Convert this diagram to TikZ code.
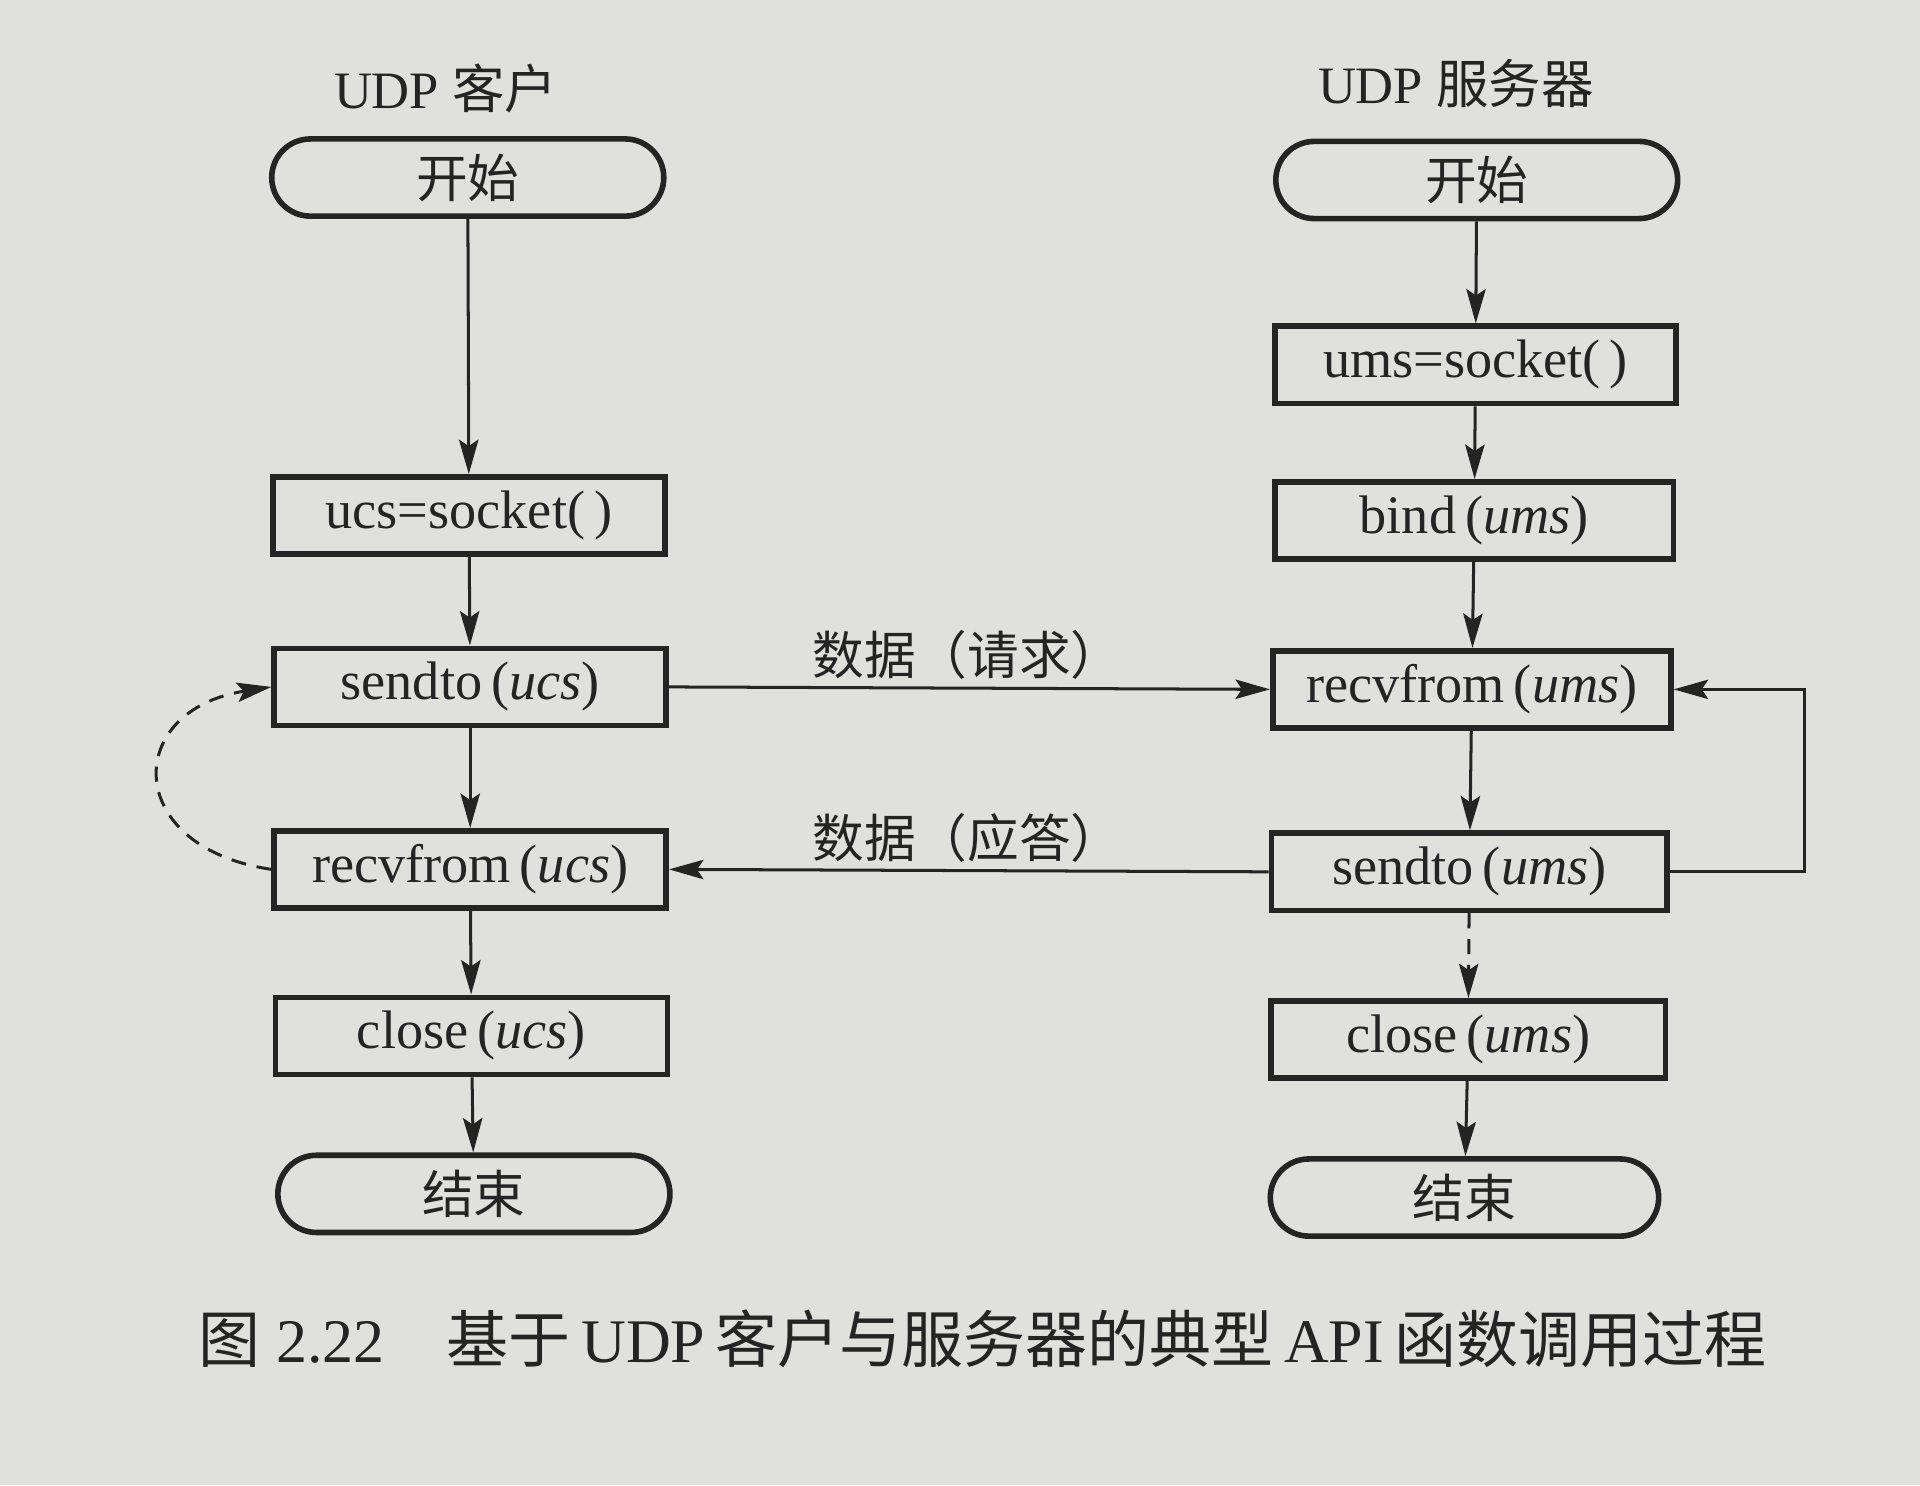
\documentclass[tikz,border=0pt]{standalone}
\usepackage{fontspec}
\setmainfont{Liberation Serif}
\newfontfamily\cjk{Noto Sans CJK SC}
\usetikzlibrary{shapes.misc,arrows.meta}
\definecolor{paper}{RGB}{224,225,221}
\definecolor{ink}{RGB}{36,36,36}
\begin{document}
\begin{tikzpicture}[x=0.01cm,y=-0.01cm,
  every node/.style={text=ink},
  fbox/.style={draw=ink,line width=1.3pt,rectangle,minimum width=3.2cm,minimum height=0.63cm,inner sep=0pt,font=\fontsize{12.6}{15}\selectfont},
  term/.style={draw=ink,line width=1.3pt,rounded rectangle,minimum width=3.2cm,minimum height=0.63cm,inner sep=0pt,font=\fontsize{12}{15}\selectfont\cjk},
  arr/.style={draw=ink,line width=0.7pt,-{Stealth[length=8pt,width=4.5pt,inset=1.5pt]}},
  dasharr/.style={arr,dash pattern=on 3.5pt off 2.5pt},
  lbl/.style={font=\fontsize{12}{15}\selectfont\cjk},
  ttl/.style={font=\fontsize{12.2}{15}\selectfont}
]
\fill[paper] (0,0) rectangle (1568,1213);
\useasboundingbox (0,0) rectangle (1568,1213);

% titles
\node[ttl] (tclient) at (364,72) {UDP {\cjk 客户}};
\node[ttl] (tserver) at (1189,68) {UDP {\cjk 服务器}};

% client column
\node[term] (cstart) at (382,145) {开始};
\node[fbox] (csock) at (383,421) {ucs=socket(\,)};
\node[fbox] (csend) at (384,561) {sendto\,(\textit{ucs})};
\node[fbox] (crecv) at (384,710) {recvfrom\,(\textit{ucs})};
\node[fbox] (cclose) at (385,846) {close\,(\textit{ucs})};
\node[term] (cend) at (387,975) {结束};

% server column
\node[term,minimum width=3.28cm] (sstart) at (1206,147) {开始};
\node[fbox,minimum width=3.27cm] (ssock) at (1205,298) {ums=socket(\,)};
\node[fbox,minimum width=3.25cm] (sbind) at (1204,425) {bind\,(\textit{ums})};
\node[fbox,minimum width=3.25cm] (srecv) at (1202,563) {recvfrom\,(\textit{ums})};
\node[fbox,minimum width=3.23cm] (ssend) at (1200,712) {sendto\,(\textit{ums})};
\node[fbox,minimum width=3.22cm] (sclose) at (1199,849) {close\,(\textit{ums})};
\node[term,minimum width=3.17cm] (send) at (1196,978) {结束};

% client arrows
\draw[arr] (cstart) -- (csock);
\draw[arr] (csock) -- (csend);
\draw[arr] (csend) -- (crecv);
\draw[arr] (crecv) -- (cclose);
\draw[arr] (cclose) -- (cend);
\draw[dasharr] (crecv.west) .. controls (100,692) and (100,580) .. (csend.west);

% server arrows
\draw[arr] (sstart) -- (ssock);
\draw[arr] (ssock) -- (sbind);
\draw[arr] (sbind) -- (srecv);
\draw[arr] (srecv) -- (ssend);
\draw[dasharr] (ssend) -- (sclose);
\draw[arr] (sclose) -- (send);
\coordinate (loopx) at (1474,0);
\draw[arr] (ssend.east) -- (ssend.east -| loopx) |- (srecv.east);

% data exchange
\draw[arr] (csend.east) -- (srecv.west);
\draw[arr] (ssend.west) -- (crecv.east);
\node[lbl] (lreq) at (790,535) {数据（请求）};
\node[lbl] (lrep) at (790,684) {数据（应答）};

% caption
\node[anchor=west,font=\fontsize{14.4}{17}\selectfont] (cap) at (150,1093)
  {{\cjk 图} 2.22\quad{\cjk 基于}\,UDP\,{\cjk 客户与服务器的典型}\,API\,{\cjk 函数调用过程}};
\end{tikzpicture}
\end{document}
